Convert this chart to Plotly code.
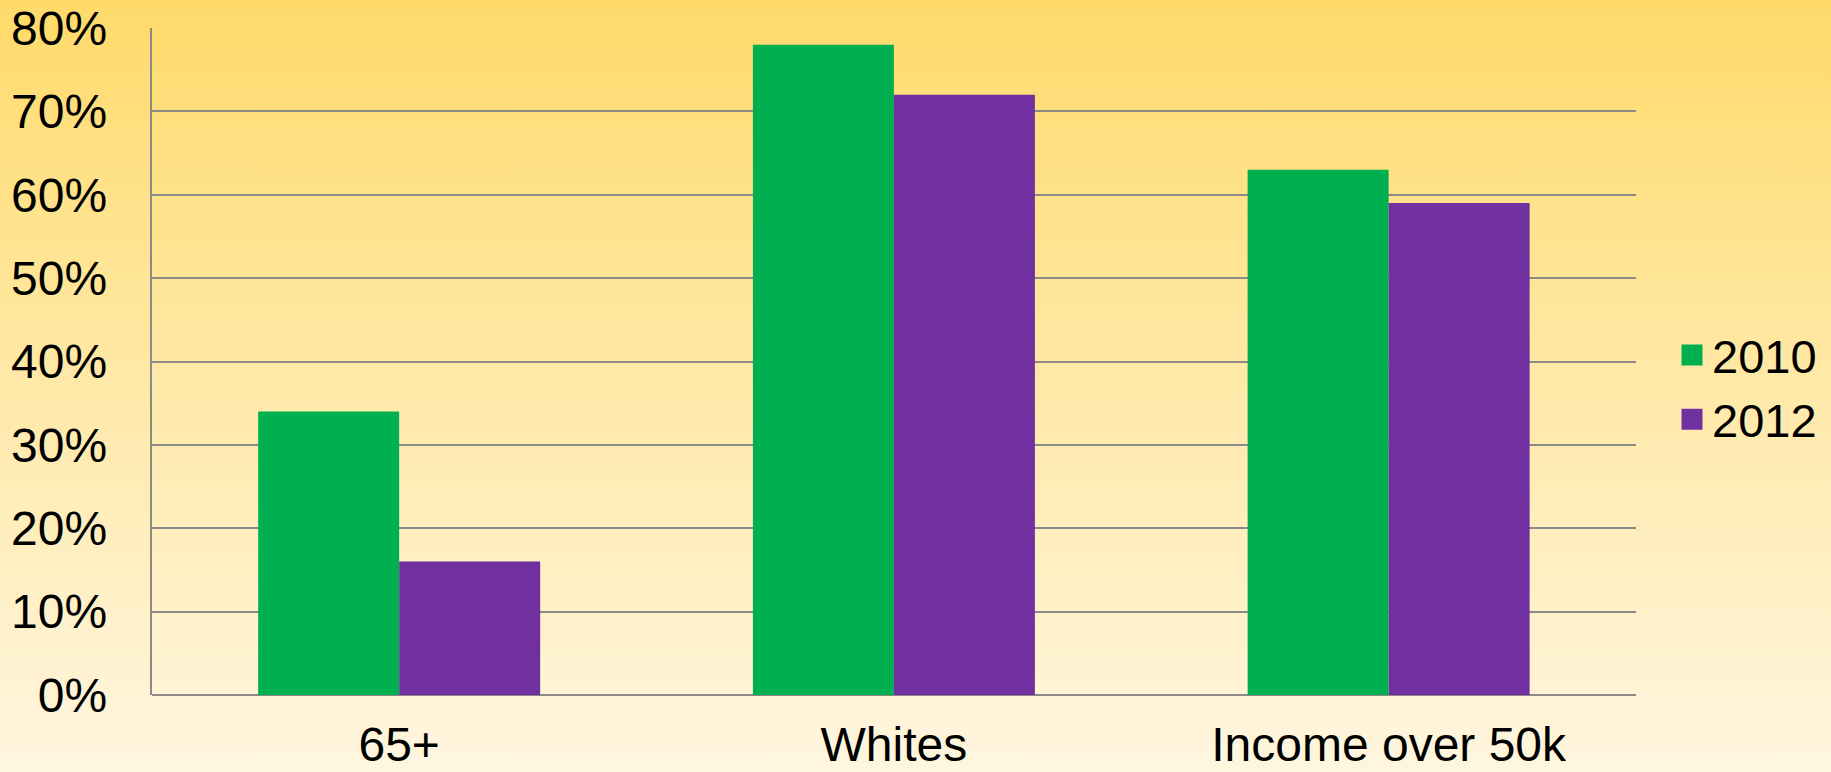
import plotly.graph_objects as go
import base64

categories = ["65+", "Whites", "Income over 50k"]
series_names = ["2010", "2012"]
values_2010 = [34, 78, 63]
values_2012 = [16, 72, 59]
colors = {"2010": "#00B050", "2012": "#7030A0"}
y_ticks = [0, 10, 20, 30, 40, 50, 60, 70, 80]
y_tick_labels = [f"{v}%" for v in y_ticks]

W, H = 1831, 772
FONT = "Liberation Sans, Arial, sans-serif"

svg = ("<svg xmlns='http://www.w3.org/2000/svg' width='1831' height='772' preserveAspectRatio='none'>"
       "<defs><linearGradient id='g' x1='0' y1='0' x2='0' y2='1'>"
       "<stop offset='0' stop-color='#FFDA6A'/>"
       "<stop offset='0.5' stop-color='#FFE9A8'/>"
       "<stop offset='1' stop-color='#FFF6E0'/>"
       "</linearGradient></defs><rect width='100%' height='100%' fill='url(#g)'/></svg>")
bg = "data:image/svg+xml;base64," + base64.b64encode(svg.encode()).decode()

fig = go.Figure()
for name, vals in zip(series_names, [values_2010, values_2012]):
    fig.add_trace(go.Bar(x=categories, y=vals, name=name, marker_color=colors[name],
                         marker_line_width=0, showlegend=False))
    fig.add_trace(go.Scatter(x=[None], y=[None], mode="markers", name=name,
                             marker=dict(symbol="square", size=16, color=colors[name],
                                         line=dict(width=6, color=colors[name]))))

x0, x1 = 151.8 / W, 1636 / W
y0, y1 = 1 - 695 / H, 1 - 28 / H

fig.update_layout(
    width=W, height=H,
    margin=dict(l=0, r=0, t=0, b=0, pad=0),
    paper_bgcolor="#FFF6E0",
    plot_bgcolor="rgba(0,0,0,0)",
    barmode="group", bargap=0.43, bargroupgap=0,
    font=dict(family=FONT, size=47, color="#000000"),
    images=[dict(source=bg, xref="paper", yref="paper", x=0, y=1, sizex=1, sizey=1,
                 xanchor="left", yanchor="top", sizing="stretch", layer="below")],
    xaxis=dict(domain=[x0, x1], showgrid=False, showline=False, ticks="",
               tickfont=dict(size=48), ticklabelstandoff=17, automargin=False),
    yaxis=dict(domain=[y0, y1], range=[0, 80], tickmode="array", tickvals=y_ticks,
               ticktext=y_tick_labels,
               showgrid=True, gridcolor="#8C8A86", gridwidth=2,
               showline=True, linecolor="#8C8A86", linewidth=2,
               zeroline=True, zerolinecolor="#8C8A86", zerolinewidth=2,
               ticks="", tickfont=dict(size=48), ticklabelstandoff=33, automargin=False),
    legend=dict(x=1672 / W, y=1 - 318 / H, xanchor="left", yanchor="top",
                bgcolor="rgba(0,0,0,0)", font=dict(size=47), itemwidth=30,
                tracegroupgap=0),
)

fig.write_html("out.html", config={"displayModeBar": False},
               post_script="document.body.style.margin='0';document.body.style.overflow='hidden';")
